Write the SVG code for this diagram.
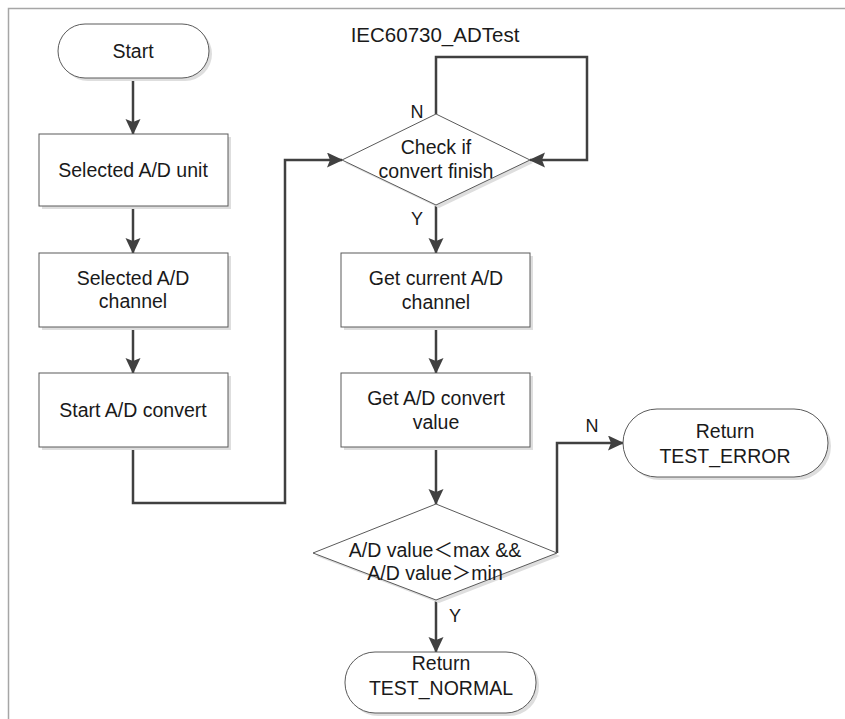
<svg xmlns="http://www.w3.org/2000/svg" width="845" height="719" viewBox="0 0 845 719">
<defs>
<style>
.sh{fill:#dedede;stroke:none}
.nd{fill:#ffffff;stroke:#5a5a5a;stroke-width:1}
.t{font-family:"Liberation Sans","Noto Sans CJK SC",sans-serif;font-size:19.5px;fill:#1a1a1a;text-anchor:middle}
.lb{font-family:"Liberation Sans",sans-serif;font-size:18px;fill:#1a1a1a;text-anchor:middle}
.c{fill:none;stroke:#404040;stroke-width:2.5}
</style>
<marker id="ah" markerUnits="userSpaceOnUse" markerWidth="18" markerHeight="16" refX="15" refY="7.5" orient="auto">
<path d="M0,0 L16,7.5 L0,15 L3,7.5 z" fill="#404040"/>
</marker>
</defs>
<rect width="845" height="719" fill="#ffffff"/>
<path d="M8.5,719 V8.5 H845" fill="none" stroke="#a6a6a6" stroke-width="1.5"/>
<text class="t" x="435" y="42" style="font-size:20.5px">IEC60730_ADTest</text>

<g id="connectors">
<path class="c" d="M133,78 V134" marker-end="url(#ah)"/>
<path class="c" d="M133,206 V253" marker-end="url(#ah)"/>
<path class="c" d="M133,327 V373" marker-end="url(#ah)"/>
<path class="c" d="M133,447 V503 H285 V160 H342" marker-end="url(#ah)"/>
<path class="c" d="M436,114 V57 H587 V160 H530" marker-end="url(#ah)"/>
<path class="c" d="M436,205 V253" marker-end="url(#ah)"/>
<path class="c" d="M436,327 V373" marker-end="url(#ah)"/>
<path class="c" d="M436,447 V504" marker-end="url(#ah)"/>
<path class="c" d="M557,553 V443 H623" marker-end="url(#ah)"/>
<path class="c" d="M436,600 V652" marker-end="url(#ah)"/>
<text class="lb" x="417" y="118">N</text>
<text class="lb" x="417" y="225">Y</text>
<text class="lb" x="592" y="432">N</text>
<text class="lb" x="455" y="622">Y</text>
</g>

<g id="start">
<rect class="sh" x="61" y="27" width="151" height="54" rx="27"/>
<rect class="nd" x="58" y="24" width="151" height="54" rx="27"/>
<text class="t" x="133" y="58">Start</text>
</g>

<g id="sel-unit">
<rect class="sh" x="42" y="137" width="189" height="72"/>
<rect class="nd" x="39" y="134" width="189" height="72"/>
<text class="t" x="133" y="177">Selected A/D unit</text>
</g>

<g id="sel-channel">
<rect class="sh" x="42" y="256" width="189" height="74"/>
<rect class="nd" x="39" y="253" width="189" height="74"/>
<text class="t" x="133" y="285">Selected A/D</text>
<text class="t" x="133" y="308">channel</text>
</g>

<g id="start-convert">
<rect class="sh" x="42" y="376" width="189" height="74"/>
<rect class="nd" x="39" y="373" width="189" height="74"/>
<text class="t" x="133" y="417">Start A/D convert</text>
</g>

<g id="check-finish">
<polygon class="sh" points="345,163 439,117 533,163 439,208"/>
<polygon class="nd" points="342,160 436,114 530,160 436,205"/>
<text class="t" x="436" y="154">Check if</text>
<text class="t" x="436" y="178">convert finish</text>
</g>

<g id="get-channel">
<rect class="sh" x="344" y="256" width="189" height="74"/>
<rect class="nd" x="341" y="253" width="189" height="74"/>
<text class="t" x="436" y="285">Get current A/D</text>
<text class="t" x="436" y="309">channel</text>
</g>

<g id="get-value">
<rect class="sh" x="344" y="376" width="189" height="74"/>
<rect class="nd" x="341" y="373" width="189" height="74"/>
<text class="t" x="436" y="405">Get A/D convert</text>
<text class="t" x="436" y="429">value</text>
</g>

<g id="check-range">
<polygon class="sh" points="316,556 439,507 560,556 439,603"/>
<polygon class="nd" points="313,553 436,504 557,553 436,600"/>
<text class="t" x="435" y="557">A/D value＜max &amp;&amp;</text>
<text class="t" x="435" y="580">A/D value＞min</text>
</g>

<g id="return-error">
<rect class="sh" x="626" y="412" width="205" height="68" rx="34"/>
<rect class="nd" x="623" y="409" width="205" height="68" rx="34"/>
<text class="t" x="725" y="438">Return</text>
<text class="t" x="725" y="463">TEST_ERROR</text>
</g>

<g id="return-normal">
<rect class="sh" x="348" y="655" width="191" height="61" rx="30"/>
<rect class="nd" x="345" y="652" width="191" height="61" rx="30"/>
<text class="t" x="441" y="670">Return</text>
<text class="t" x="441" y="695">TEST_NORMAL</text>
</g>
</svg>
